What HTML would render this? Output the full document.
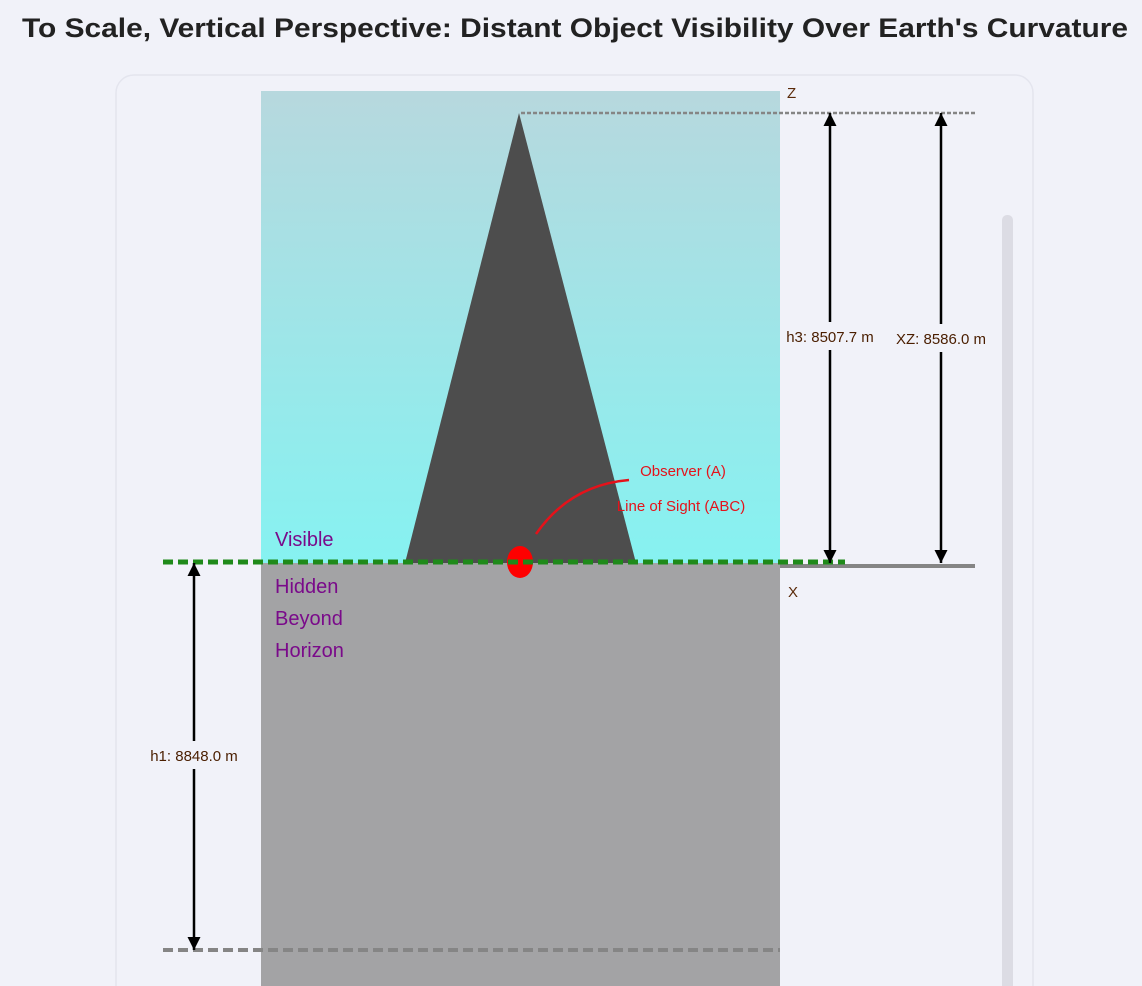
<!DOCTYPE html>
<html><head><meta charset="utf-8"><style>
html,body{margin:0;padding:0;background:#f1f2f9;width:1142px;height:986px;overflow:hidden;font-family:"Liberation Sans",sans-serif;}
</style></head><body>
<svg width="1142" height="986" xmlns="http://www.w3.org/2000/svg">
<defs>
<linearGradient id="sky" x1="0" y1="0" x2="0" y2="1"><stop offset="0" stop-color="#b7d8de"/><stop offset="1" stop-color="#86f2f1"/></linearGradient>
<marker id="ahb" viewBox="0 0 10 10" refX="10" refY="5" markerWidth="15" markerHeight="13" markerUnits="userSpaceOnUse" orient="auto"><path d="M0,0 L10,5 L0,10 z" fill="#000"/></marker>
</defs>
<text x="575" y="37" text-anchor="middle" font-size="27" font-weight="bold" fill="#222" textLength="1106" lengthAdjust="spacingAndGlyphs">To Scale, Vertical Perspective: Distant Object Visibility Over Earth's Curvature</text>
<rect x="116" y="75" width="917" height="940" rx="18" fill="#f1f2f9" stroke="#e4e5ee" stroke-width="1.5"/>
<rect x="1002" y="215" width="11" height="800" rx="5" fill="#dcdce4"/>
<g id="plot"></g>
</svg>
<script>
const labels = ["h1", "h3", "XZ"];
const values = [8848.0, 8507.7, 8586.0];
const NS = "http://www.w3.org/2000/svg";
const g = document.getElementById("plot");
const horizonY = 563, pxPerM = 450 / 8507.7;
const yUp = h => horizonY - h * pxPerM;
const h1Y = horizonY + values[0] * (387 / 8848);
function el(t, a, p) { const e = document.createElementNS(NS, t); for (const k in a) e.setAttribute(k, a[k]); (p || g).appendChild(e); return e; }
function txt(x, y, s, a) { const e = el("text", Object.assign({x: x, y: y}, a)); e.textContent = s; return e; }
const peakY = yUp(values[1]);
let e;
e = el("rect", {x: 261, y: 91, width: 519, height: horizonY - 91, fill: "url(#sky)"});


e = el("rect", {x: 261, y: horizonY, width: 519, height: 986 - horizonY, fill: "#a3a3a5"});


e = el("polygon", {points: `519,${peakY} 405,${horizonY} 636,${horizonY}`, fill: "#4d4d4d"});


e = el("line", {x1: 780, y1: 566, x2: 975, y2: 566, stroke: "#858585", "stroke-width": 4});


e = el("line", {x1: 521, y1: peakY, x2: 975, y2: peakY, stroke: "#858585", "stroke-width": 2.5, "stroke-dasharray": "4,2"});


e = el("line", {x1: 163, y1: h1Y, x2: 780, y2: h1Y, stroke: "#858585", "stroke-width": 4, "stroke-dasharray": "10,5"});


e = el("ellipse", {cx: 520, cy: 562, rx: 13, ry: 16, fill: "#f00"});


e = el("line", {x1: 163, y1: 562, x2: 845, y2: 562, stroke: "#1f8a1a", "stroke-width": 5, "stroke-dasharray": "10,5"});


e = el("path", {d: "M536,534 Q570,485 629,480", stroke: "#e5121a", "stroke-width": 2.5, fill: "none"});


e = txt(683, 476, "Observer (A)", {"text-anchor": "middle", "font-size": 15, fill: "#e5121a"});


e = txt(681, 511, "Line of Sight (ABC)", {"text-anchor": "middle", "font-size": 15, fill: "#e5121a"});


e = txt(275, 546, "Visible", {"font-size": 20, fill: "#7a0a8a"});


["Hidden", "Beyond", "Horizon"].forEach((s, i) => {
  const t = txt(275, 593 + i * 32, s, {"font-size": 20, fill: "#7a0a8a"});
  
  
});
e = txt(787, 98, "Z", {"font-size": 15, fill: "#5a2a0a"});


e = txt(788, 597, "X", {"font-size": 15, fill: "#5a2a0a"});


function dim(x, yA, yB, label, ly, name) {
  const a = el("line", {x1: x, y1: ly - 14, x2: x, y2: yA, stroke: "#000", "stroke-width": 2.5, "marker-end": "url(#ahb)"});
  
  
  const b = el("line", {x1: x, y1: ly + 14, x2: x, y2: yB, stroke: "#000", "stroke-width": 2.5, "marker-end": "url(#ahb)"});
  
  
  const t = txt(x, ly + 6, label, {"text-anchor": "middle", "font-size": 15, fill: "#4a1e00"});
  
  
}
dim(194, horizonY, h1Y, labels[0] + ": " + values[0].toFixed(1) + " m", 755, "h1-dimension");
dim(830, yUp(values[1]), horizonY, labels[1] + ": " + values[1].toFixed(1) + " m", 336, "h3-dimension");
dim(941, peakY, horizonY, labels[2] + ": " + values[2].toFixed(1) + " m", 338, "xz-dimension");
</script>
</body></html>
